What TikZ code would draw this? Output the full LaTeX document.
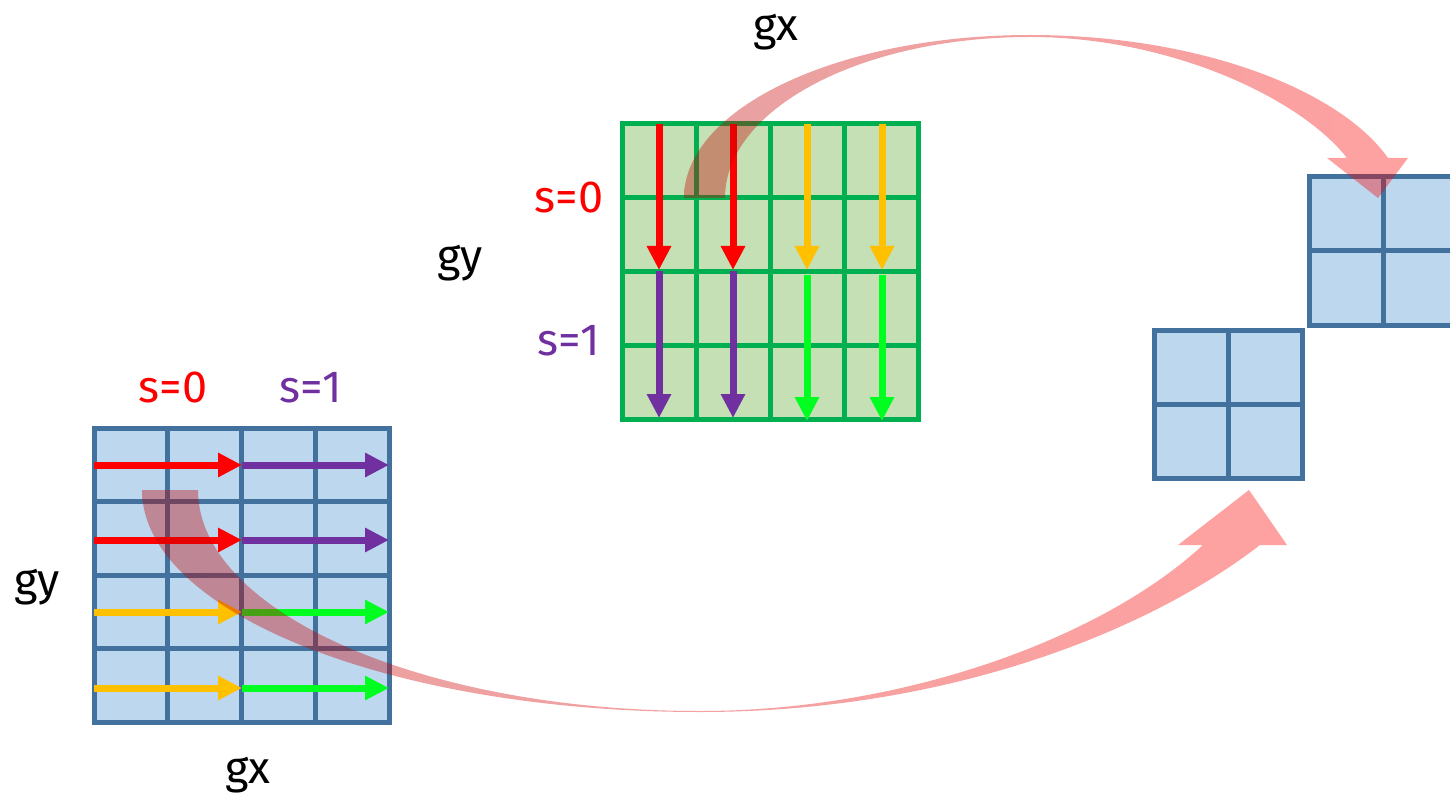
\documentclass[tikz,border=0pt]{standalone}
\usepackage{fontspec}
\setmainfont{Fira Sans}
\usetikzlibrary{arrows.meta}

\definecolor{gridblue}{HTML}{41719C}
\definecolor{cellblue}{HTML}{BDD7EE}
\definecolor{gridgreen}{HTML}{00B050}
\definecolor{cellgreen}{HTML}{C5E0B4}
\definecolor{arred}{HTML}{FF0000}
\definecolor{arpurple}{HTML}{7030A0}
\definecolor{aryellow}{HTML}{FFC000}
\definecolor{argreen}{HTML}{00FF21}
\definecolor{flowdark}{HTML}{C00000}
\definecolor{flowlight}{HTML}{FF0000}

\tikzset{
  bluegrid/.style={draw=gridblue, fill=cellblue, line width=5pt},
  blueline/.style={draw=gridblue, line width=5pt},
  greengrid/.style={draw=gridgreen, fill=cellgreen, line width=5pt},
  greenline/.style={draw=gridgreen, line width=5pt},
  flowarrow/.style={line width=7pt, -{Triangle[width=23pt,length=24pt]}},
  bigflow/.style={left color=flowdark, right color=flowlight, opacity=0.37},
  lbl/.style={anchor=base, inner sep=0pt, font=\fontsize{45}{54}\selectfont},
}

\begin{document}
\begin{tikzpicture}[x=1pt, y=-1pt]
\useasboundingbox (0,0) rectangle (1450,794);

% ---- left 4x4 grid (row-wise pass) ----
\filldraw[bluegrid] (94,428) rectangle (389,722);
\foreach \i in {1,2,3} {
  \draw[blueline] (94+\i*73.75,428) -- (94+\i*73.75,722);
  \draw[blueline] (94,428+\i*73.5) -- (389,428+\i*73.5);
}

% ---- top 4x4 grid (column-wise pass) ----
\filldraw[greengrid] (622,124) rectangle (918,419);
\foreach \i in {1,2,3} {
  \draw[greenline] (622+\i*74,124) -- (622+\i*74,419);
  \draw[greenline] (622,124+\i*73.75) -- (918,124+\i*73.75);
}

% ---- right 2x2 output tiles ----
\filldraw[bluegrid] (1309,177) rectangle (1457,325);
\draw[blueline] (1383,177) -- (1383,325);
\draw[blueline] (1309,251) -- (1457,251);
\filldraw[bluegrid] (1154,330) rectangle (1302,478);
\draw[blueline] (1228,330) -- (1228,478);
\draw[blueline] (1154,404) -- (1302,404);

% ---- horizontal passes in the left grid ----
\coordinate (h0) at (94,0);
\coordinate (h1) at (242,0);
\coordinate (h2) at (389,0);
\foreach \y/\ca/\cb in {465/arred/arpurple, 540/arred/arpurple,
                        612/aryellow/argreen, 688/aryellow/argreen} {
  \draw[flowarrow, draw=\ca, fill=\ca] (h0 |- 0,\y) -- (h1 |- 0,\y);
  \draw[flowarrow, draw=\cb, fill=\cb] (h1 |- 0,\y) -- (h2 |- 0,\y);
}

% ---- vertical passes in the top grid ----
\foreach \x/\ca/\cb/\s/\e in {659/arred/arpurple/271/418, 733/arred/arpurple/271/418,
                              807/aryellow/argreen/275/421, 882/aryellow/argreen/275/421} {
  \draw[flowarrow, draw=\ca, fill=\ca] (\x,124) -- (\x,270);
  \draw[flowarrow, draw=\cb, fill=\cb] (\x,\s) -- (\x,\e);
}

% ---- broad curved arrow: left grid to lower tile ----
\shade[bigflow]
  (142,490) .. controls (142,612.6) and (391.8,712) .. (700,712)
  .. controls (950,712) and (1150,630) .. (1260,545)
  -- (1287,545) -- (1249,490) -- (1178,545) -- (1203,545)
  .. controls (1100,640) and (900,711) .. (700,711)
  .. controls (422.7,711) and (198,612) .. (198,490) -- cycle;

% ---- broad curved arrow: top grid to upper tile ----
\shade[bigflow]
  (684,198) .. controls (684,108) and (839,35) .. (1030,35)
  .. controls (1200,35) and (1340,90) .. (1388,158)
  -- (1408,158) -- (1378,198) -- (1327,158) -- (1347,158)
  .. controls (1300,98) and (1170,37) .. (1030,37)
  .. controls (861,37) and (725,109) .. (725,198) -- cycle;

% ---- labels ----
\node[lbl] (gxtop) at (776,41) {gx};
\node[lbl] (gymid) at (460,272) {gy};
\node[lbl, text=arred] (s0top) at (569,213) {s=0};
\node[lbl, text=arpurple] (s1top) at (569,355) {s=1};
\node[lbl, text=arred] (s0left) at (173,402) {s=0};
\node[lbl, text=arpurple] (s1left) at (311,402) {s=1};
\node[lbl] (gyleft) at (37,595) {gy};
\node[lbl] (gxbot) at (248,783) {gx};
\end{tikzpicture}
\end{document}
